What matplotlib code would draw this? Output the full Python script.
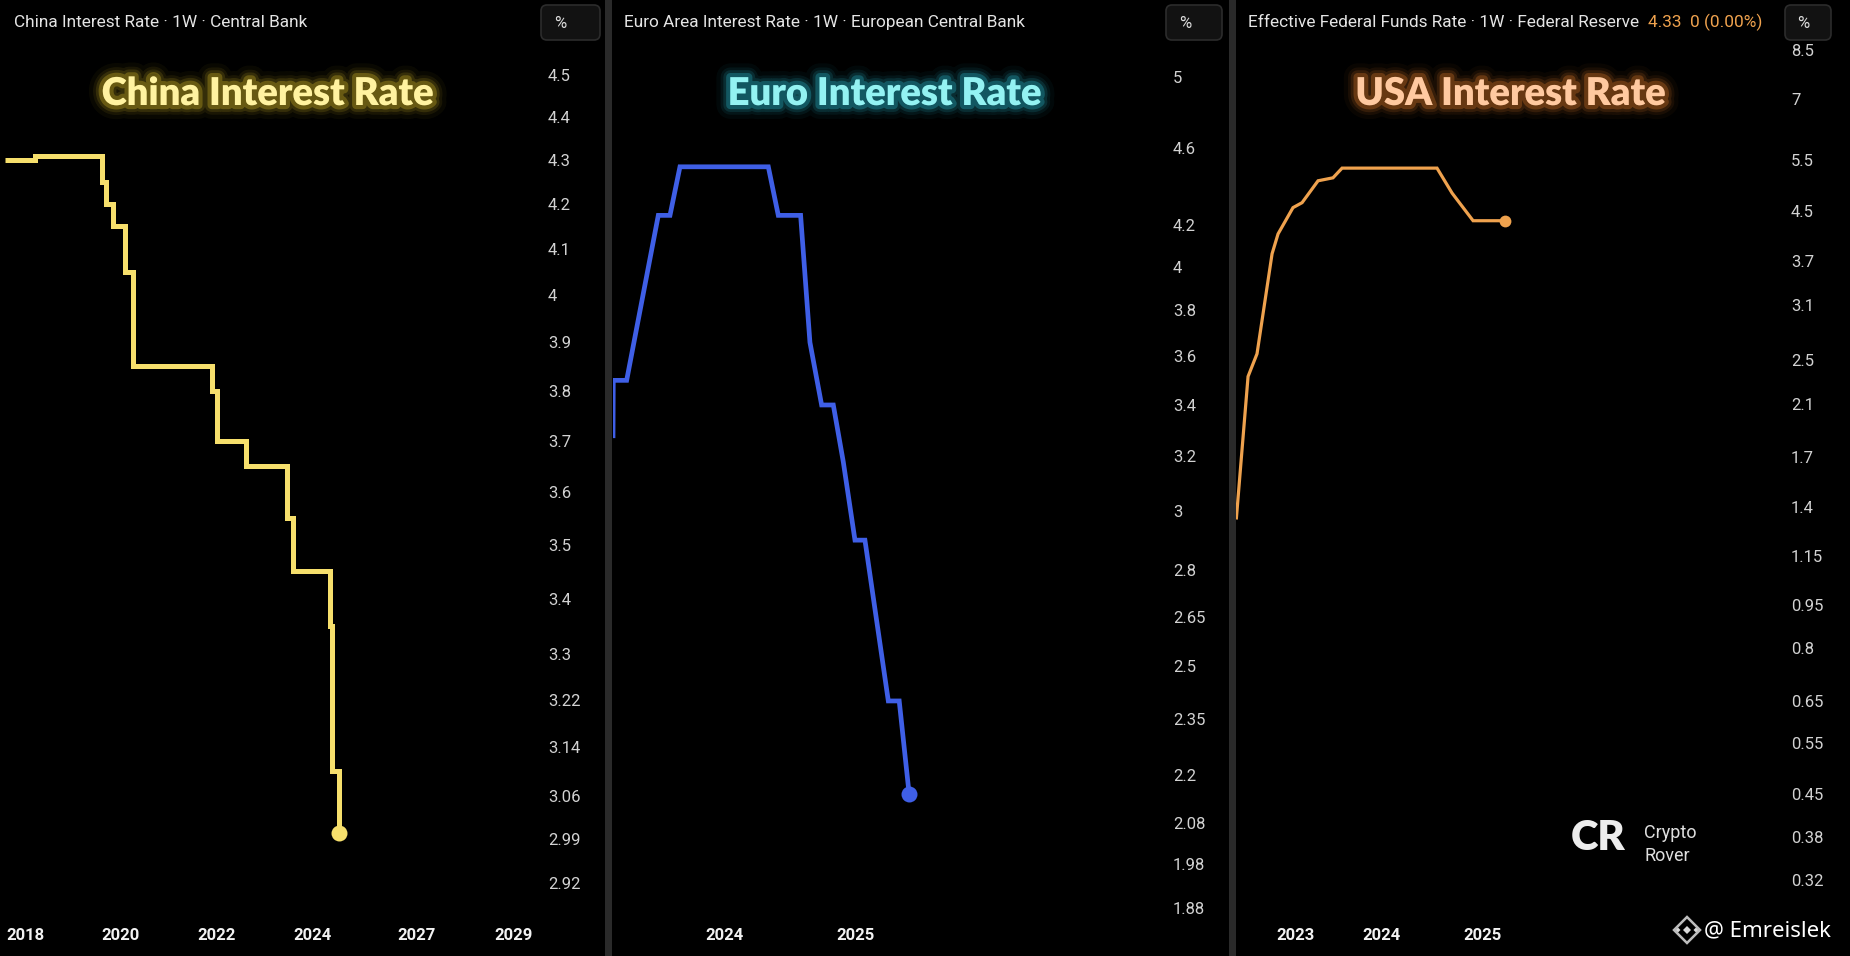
import matplotlib
matplotlib.use('Agg')
import matplotlib.pyplot as plt
import matplotlib.patheffects as pe
from matplotlib.patches import FancyBboxPatch, Rectangle, Polygon
from matplotlib.ticker import FixedLocator, NullLocator

china_x = [2017.58, 2018.21, 2019.61, 2019.69, 2019.84, 2020.09, 2020.25, 2021.90,
           2022.00, 2022.61, 2023.46, 2023.60, 2024.37, 2024.40, 2024.56]
china_rate = [4.30, 4.31, 4.25, 4.20, 4.15, 4.05, 3.85, 3.80,
              3.70, 3.65, 3.55, 3.45, 3.35, 3.10, 3.00]

euro_x = [2023.151, 2023.153, 2023.255, 2023.496, 2023.585, 2023.661, 2024.334, 2024.410,
          2024.580, 2024.651, 2024.740, 2024.829, 2024.905, 2024.994, 2025.070, 2025.248,
          2025.331, 2025.407]
euro_rate = [3.27, 3.50, 3.50, 4.25, 4.25, 4.50, 4.50, 4.25,
             4.25, 3.66, 3.40, 3.40, 3.18, 2.90, 2.90, 2.40,
             2.40, 2.15]

usa_x = [2022.366, 2022.492, 2022.588, 2022.749, 2022.813, 2022.973, 2023.070,
         2023.241, 2023.401, 2023.498, 2024.514, 2024.675, 2024.900, 2025.242]
usa_rate = [1.33, 2.34, 2.56, 3.80, 4.11, 4.56, 4.65,
            5.07, 5.13, 5.33, 5.33, 4.83, 4.33, 4.33]

china_yticks = [4.5, 4.4, 4.3, 4.2, 4.1, 4, 3.9, 3.8, 3.7, 3.6, 3.5, 3.4, 3.3,
                3.22, 3.14, 3.06, 2.99, 2.92]
euro_yticks = [5, 4.6, 4.2, 4, 3.8, 3.6, 3.4, 3.2, 3, 2.8, 2.65, 2.5, 2.35,
               2.2, 2.08, 1.98, 1.88]
usa_yticks = [8.5, 7, 5.5, 4.5, 3.7, 3.1, 2.5, 2.1, 1.7, 1.4, 1.15, 0.95, 0.8,
              0.65, 0.55, 0.45, 0.38, 0.32]

# time axis labels (TradingView spaces them by bars, not by calendar)
china_xticks = [2018, 2020, 2022, 2024, 2026.18, 2028.19]
china_xlabels = ['2018', '2020', '2022', '2024', '2027', '2029']
euro_xticks = [2024, 2025]
euro_xlabels = ['2024', '2025']
usa_xticks = [2023, 2023.915, 2025]
usa_xlabels = ['2023', '2024', '2025']

W, H = 1850, 956
BG = '#000000'
TICK_COL = '#d2d2d2'
UI = 'Roboto'

fig = plt.figure(figsize=(W / 100, H / 100), dpi=100, facecolor=BG)


def pane(left, right, top=0, bottom=918):
    return fig.add_axes([left / W, 1 - bottom / H, (right - left) / W, (bottom - top) / H])


def draw_panel(ax, x, y, color, lw, ms, xlim, ylim, yticks, xticks, xlabels, steps=False):
    ax.set_facecolor(BG)
    ax.plot(x, y, color=color, lw=lw, drawstyle='steps-post' if steps else 'default',
            solid_joinstyle='miter', solid_capstyle='butt', zorder=3)
    ax.plot(x[-1], y[-1], 'o', color=color, ms=ms, mec='none', zorder=4)
    ax.set_yscale('log')
    ax.set_xlim(*xlim)
    ax.set_ylim(*ylim)
    ax.yaxis.tick_right()
    ax.yaxis.set_major_locator(FixedLocator(yticks))
    ax.yaxis.set_minor_locator(NullLocator())
    ax.set_yticklabels(['{:g}'.format(v) for v in yticks])
    ax.set_xticks(xticks)
    ax.set_xticklabels(xlabels)
    ax.tick_params(axis='y', length=0, pad=5, labelsize=12, labelcolor=TICK_COL)
    ax.tick_params(axis='x', length=0, pad=7, labelsize=12, labelcolor='#f2f2f2')
    for t in ax.get_yticklabels():
        t.set_fontfamily(UI)
    for t in ax.get_xticklabels():
        t.set_fontfamily(UI)
        t.set_fontweight('bold')
    for s in ax.spines.values():
        s.set_visible(False)


ax1 = pane(0, 541)
draw_panel(ax1, china_x, china_rate, '#f6df6c', 3.6, 11.5, (2017.478, 2028.772), (2.866, 4.684),
           china_yticks, china_xticks, china_xlabels, steps=True)

ax2 = pane(613, 1166)
draw_panel(ax2, euro_x, euro_rate, '#3f5fe6', 3.4, 11.5, (2023.151, 2027.363), (1.859, 5.476),
           euro_yticks, euro_xticks, euro_xlabels)

ax3 = pane(1236, 1784)
draw_panel(ax3, usa_x, usa_rate, '#efa24e', 2.3, 8.5, (2022.363, 2028.227), (0.2755, 10.356),
           usa_yticks, usa_xticks, usa_xlabels)

# ---- overlay in pixel units for the chrome ----
ov = fig.add_axes([0, 0, 1, 1], zorder=10)
ov.set_xlim(0, W)
ov.set_ylim(H, 0)
ov.axis('off')
ov.patch.set_visible(False)

# pane separators
for x0 in (605, 1229):
    ov.add_patch(Rectangle((x0, 0), 7, H, color='#2a2a2a', lw=0))

# "%" buttons
for x0, w, tx in [(541, 59, 560), (1166, 56, 1185), (1785, 46, 1803)]:
    ov.add_patch(FancyBboxPatch((x0, 5), w, 35, boxstyle='round,pad=0,rounding_size=6',
                                fc='#121212', ec='#2c2c2c', lw=1.2))
    ov.text(tx, 23, '%', color='#dcdcdc', fontsize=12, family=UI, ha='center', va='center')

# pane headers
hdr = dict(color='#e4e4e4', fontsize=12.4, family=UI, va='center', ha='left')
ov.text(14, 22, 'China Interest Rate · 1W · Central Bank', **hdr)
ov.text(624, 22, 'Euro Area Interest Rate · 1W · European Central Bank', **hdr)
ov.text(1248, 22, 'Effective Federal Funds Rate · 1W · Federal Reserve', **hdr)
ov.text(1648, 22, '4.33  0 (0.00%)', color='#efa24e', fontsize=12.4, family=UI,
        va='center', ha='left')


def glow(c):
    fx = [pe.Stroke(linewidth=w, foreground=c, alpha=a)
          for w, a in [(20, 0.04), (14, 0.07), (10, 0.12), (6, 0.25)]]
    return fx + [pe.Normal()]


ttl = dict(fontsize=27.5, family='Lato', fontweight='heavy', ha='center', va='center')
ov.text(268, 94, 'China Interest Rate', color='#fff2a0', path_effects=glow('#ffdc30'), **ttl)
ov.text(885, 94, 'Euro Interest Rate', color='#93f2f2', path_effects=glow('#30d8ee'), **ttl)
ov.text(1511, 94, 'USA Interest Rate', color='#ffc9a0', path_effects=glow('#ff8a30'), **ttl)

# Crypto Rover mark
ov.text(1598, 838, 'CR', color='#ececec', fontsize=30, family='Lato', fontweight='heavy',
        ha='center', va='center')
ov.text(1644, 833, 'Crypto', color='#dedede', fontsize=13, family=UI, ha='left', va='center')
ov.text(1644, 856, 'Rover', color='#dedede', fontsize=13, family=UI, ha='left', va='center')

# watermark
cx, cy = 1687, 930
ov.add_patch(Polygon([(cx, cy - 13), (cx + 13, cy), (cx, cy + 13), (cx - 13, cy)],
                     closed=True, fill=False, ec='#bdbdbd', lw=1.8))
for dx, dy, r in [(0, 0, 4), (-9, 0, 2.5), (9, 0, 2.5)]:
    px, py = cx + dx, cy + dy
    ov.add_patch(Polygon([(px, py - r), (px + r, py), (px, py + r), (px - r, py)],
                         closed=True, fc='#d8d8d8', ec='none'))
ov.text(1704, 931, '@ Emreislek', color='#ffffff', fontsize=16, family='Noto Sans',
        ha='left', va='center')

fig.savefig('out.png', dpi=100, facecolor=BG)
